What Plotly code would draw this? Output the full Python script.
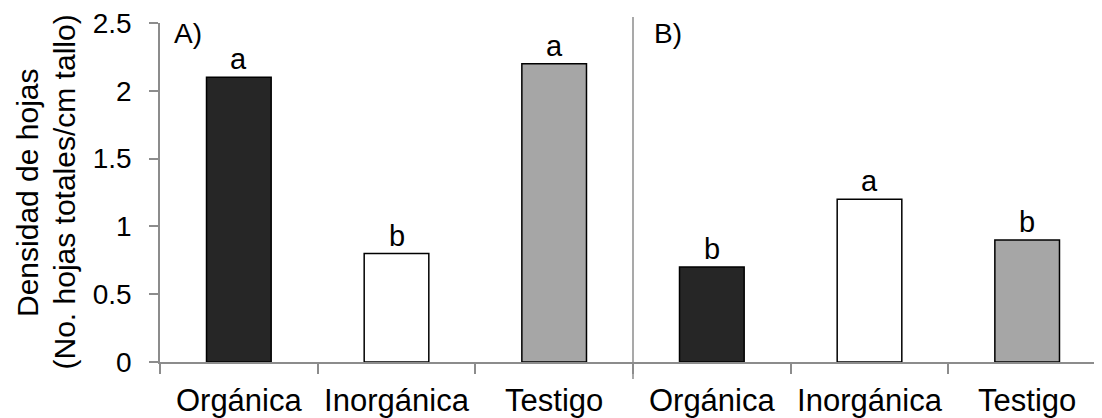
import plotly.graph_objects as go

categories = ["Orgánica", "Inorgánica", "Testigo"]
values_a = [2.1, 0.8, 2.2]
values_b = [0.7, 1.2, 0.9]
letters_a = ["a", "b", "a"]
letters_b = ["b", "a", "b"]
bar_colors = ["#262626", "#ffffff", "#a6a6a6"]
y_ticks = [0, 0.5, 1, 1.5, 2, 2.5]
y_tick_labels = ["0", "0.5", "1", "1.5", "2", "2.5"]
title_lines = ["Densidad de hojas", "(No. hojas totales/cm tallo)"]

FONT = "Liberation Sans, Arial, sans-serif"
AXIS_GRAY = "#8c8c8c"

OFF = 8  # default page body margin
W, H = 1102 - OFF, 418 - OFF
ml, mt = 160 - OFF, 23 - OFF
plot_h = 339
mb = H - mt - plot_h
mr = 0
plot_w = W - ml - mr
split = (633 - OFF - ml) / plot_w
cat_px = (633 - 160) / 3.0
right_max = -0.5 + (1102 - 633) / cat_px

fig = go.Figure()
fig.add_trace(go.Bar(x=categories, y=values_a, marker=dict(color=bar_colors, line=dict(color="black", width=1.5)),
                     width=0.41, xaxis="x", yaxis="y", showlegend=False, hoverinfo="skip"))
fig.add_trace(go.Bar(x=categories, y=values_b, marker=dict(color=bar_colors, line=dict(color="black", width=1.5)),
                     width=0.41, xaxis="x2", yaxis="y", showlegend=False, hoverinfo="skip"))

annotations = []
for xref, vals, lets in (("x", values_a, letters_a), ("x2", values_b, letters_b)):
    for c, v, l in zip(categories, vals, lets):
        annotations.append(dict(x=c, y=v, xref=xref, yref="y", text=l, showarrow=False,
                                yanchor="bottom", yshift=0, font=dict(size=29, color="black", family=FONT)))
annotations.append(dict(x=12 / plot_w, y=1.0, xref="paper", yref="paper", text="A)", showarrow=False,
                        xanchor="left", yanchor="top", yshift=7, font=dict(size=28, color="black", family=FONT)))
annotations.append(dict(x=split + 19 / plot_w, y=1.0, xref="paper", yref="paper", text="B)", showarrow=False,
                        xanchor="left", yanchor="top", yshift=7, font=dict(size=28, color="black", family=FONT)))
# y-axis title as two rotated lines
for line, cx in zip(title_lines, [27.5, 64.0]):
    annotations.append(dict(x=(cx - 160) / plot_w, y=0.5, xref="paper", yref="paper", text=line,
                            showarrow=False, textangle=-90, xanchor="center", yanchor="middle",
                            font=dict(size=30, color="black", family=FONT)))

xaxis_common = dict(type="category", showline=True, linecolor=AXIS_GRAY, linewidth=1.5,
                    ticks="outside", tickson="boundaries", ticklen=10, tickcolor=AXIS_GRAY, tickwidth=1.5,
                    showgrid=False, zeroline=False, tickfont=dict(size=31, color="black", family=FONT),
                    ticklabelstandoff=10, ticklabeloverflow="allow", fixedrange=True, automargin=False)

fig.update_layout(
    width=W, height=H,
    margin=dict(l=ml, r=mr, t=mt, b=mb, pad=0, autoexpand=False),
    paper_bgcolor="white", plot_bgcolor="white",
    bargap=0.59,
    xaxis=dict(domain=[0, split], range=[-0.5, 2.5], **xaxis_common),
    xaxis2=dict(domain=[split, 1], range=[-0.5, right_max], anchor="y", **xaxis_common),
    yaxis=dict(range=[0, 2.5], tickvals=y_ticks, ticktext=y_tick_labels, showline=True, linecolor=AXIS_GRAY,
               linewidth=1.5, ticks="outside", ticklen=9, tickcolor=AXIS_GRAY, tickwidth=1.5, showgrid=False,
               zeroline=False, tickfont=dict(size=28, color="black", family=FONT), ticklabelstandoff=12,
               ticklabeloverflow="allow", automargin=False, fixedrange=True),
    annotations=annotations,
    shapes=[dict(type="line", xref="paper", yref="paper", x0=split, x1=split,
                 y0=-(379 - 362) / plot_h, y1=1 + 6 / plot_h,
                 line=dict(color=AXIS_GRAY, width=1.5))],
)

fig.write_html("out.html", config={"displayModeBar": False})
